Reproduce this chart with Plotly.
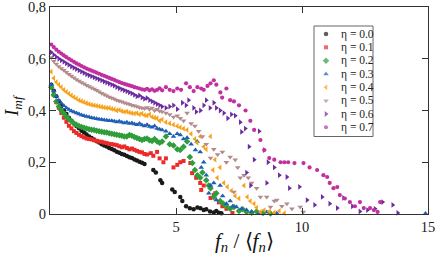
import plotly.graph_objects as go

# ---------------- data ----------------
ETA_LABELS = ["η = 0.0", "η = 0.1", "η = 0.2", "η = 0.3", "η = 0.4", "η = 0.5", "η = 0.6", "η = 0.7"]
COLORS = ["#1a1a1a", "#ec2a2a", "#2f9e3a", "#1f5eb5", "#f7a21b", "#b38b8b", "#6a2c9e", "#c2309f"]
SYMBOLS = ["circle", "square", "diamond", "triangle-up", "triangle-left", "triangle-down", "triangle-right", "circle"]

DENSE_X = [0.05, 0.15, 0.25, 0.35, 0.45, 0.55, 0.65, 0.75, 0.85, 0.95, 1.05, 1.15, 1.25, 1.35, 1.45,
           1.55, 1.65, 1.75, 1.85, 1.95, 2.05, 2.15, 2.25, 2.35, 2.45, 2.55, 2.65, 2.75, 2.85, 2.95,
           3.05, 3.15, 3.25, 3.35, 3.45, 3.55, 3.65, 3.75, 3.85, 3.95, 4.05, 4.15, 4.25, 4.35, 4.45]

Y00_DENSE = [0.500, 0.476, 0.455, 0.436, 0.417, 0.400, 0.386, 0.372, 0.360, 0.350, 0.340, 0.331, 0.322,
             0.315, 0.307, 0.300, 0.294, 0.288, 0.281, 0.276, 0.270, 0.265, 0.261, 0.255, 0.251, 0.246,
             0.241, 0.237, 0.232, 0.229, 0.224, 0.219, 0.216, 0.211, 0.207, 0.202, 0.198, 0.193]
X00_TAIL = [4.10, 4.20, 4.38, 4.45, 4.85, 4.95, 5.17, 5.25, 5.40, 5.55, 5.70, 5.85, 5.97, 6.10, 6.20,
            6.35, 6.50, 6.60, 6.70, 6.80]
Y00_TAIL = [0.170, 0.160, 0.130, 0.120, 0.095, 0.085, 0.066, 0.050, 0.030, 0.022, 0.018, 0.025, 0.022,
            0.015, 0.018, 0.010, 0.006, 0.012, 0.005, 0.003]

Y01_DENSE = [0.490, 0.460, 0.432, 0.410, 0.390, 0.372, 0.356, 0.341, 0.331, 0.320, 0.313, 0.306, 0.301,
             0.296, 0.292, 0.290, 0.288, 0.285, 0.283, 0.280, 0.279, 0.276, 0.274, 0.271, 0.270, 0.268,
             0.266, 0.262, 0.258, 0.261, 0.255, 0.250, 0.253, 0.248, 0.244, 0.240, 0.238, 0.232, 0.230]
X01_TAIL = [4.00, 4.10, 4.25, 4.35, 4.50, 4.60, 4.90, 5.05, 5.17, 5.30, 5.57, 5.64, 5.80, 5.96, 6.00,
            6.10, 6.37, 6.50, 6.56, 6.70, 6.84, 7.00, 7.24]
Y01_TAIL = [0.235, 0.225, 0.240, 0.215, 0.200, 0.215, 0.180, 0.190, 0.200, 0.205, 0.197, 0.158, 0.140,
            0.120, 0.093, 0.110, 0.062, 0.073, 0.080, 0.045, 0.030, 0.020, 0.004]

Y02_DENSE = [0.490, 0.460, 0.435, 0.415, 0.400, 0.388, 0.376, 0.366, 0.358, 0.350, 0.345, 0.340, 0.336,
             0.333, 0.330, 0.328, 0.326, 0.325, 0.322, 0.320, 0.318, 0.316, 0.315, 0.312, 0.310, 0.308,
             0.306, 0.304, 0.302, 0.300, 0.300, 0.305, 0.302, 0.298, 0.294, 0.290, 0.286, 0.290, 0.292,
             0.285, 0.282, 0.290, 0.280, 0.275, 0.280]
X02_TAIL = [4.60, 4.75, 4.90, 5.05, 5.17, 5.30, 5.44, 5.55, 5.65, 5.75, 5.85, 5.96, 6.05, 6.20, 6.30,
            6.37, 6.50, 6.60, 6.75, 6.88, 7.00, 7.15, 7.30, 7.50, 7.65, 7.80, 8.00, 8.20, 8.45, 8.75]
Y02_TAIL = [0.300, 0.270, 0.265, 0.250, 0.247, 0.260, 0.280, 0.220, 0.197, 0.170, 0.150, 0.140, 0.160,
            0.130, 0.110, 0.100, 0.066, 0.080, 0.050, 0.040, 0.030, 0.020, 0.027, 0.012, 0.018, 0.008,
            0.005, 0.010, 0.004, 0.002]

Y03_DENSE = [0.500, 0.475, 0.455, 0.440, 0.428, 0.418, 0.410, 0.404, 0.398, 0.394, 0.390, 0.386, 0.383,
             0.380, 0.377, 0.375, 0.372, 0.370, 0.368, 0.366, 0.365, 0.363, 0.362, 0.360, 0.360, 0.358,
             0.356, 0.358, 0.355, 0.352, 0.355, 0.350, 0.352, 0.348, 0.345, 0.350, 0.344, 0.340, 0.345,
             0.338, 0.335, 0.340, 0.330, 0.328, 0.325]
X03_TAIL = [4.60, 4.75, 4.90, 5.05, 5.17, 5.30, 5.44, 5.60, 5.77, 5.84, 5.96, 6.00, 6.10, 6.20, 6.30,
            6.37, 6.50, 6.60, 6.75, 6.85, 7.00, 7.15, 7.25, 7.40, 7.60, 7.80, 8.00, 8.30, 8.60, 9.00, 14.90]
Y03_TAIL = [0.320, 0.310, 0.300, 0.310, 0.305, 0.290, 0.295, 0.270, 0.247, 0.280, 0.240, 0.180, 0.200,
            0.150, 0.080, 0.110, 0.120, 0.054, 0.110, 0.070, 0.040, 0.050, 0.030, 0.027, 0.020, 0.015,
            0.010, 0.004, 0.008, 0.003, 0.002]

Y04_DENSE = [0.550, 0.525, 0.510, 0.500, 0.490, 0.480, 0.472, 0.465, 0.458, 0.452, 0.446, 0.440, 0.436,
             0.432, 0.428, 0.425, 0.422, 0.420, 0.418, 0.416, 0.414, 0.412, 0.410, 0.410, 0.406, 0.404,
             0.400, 0.402, 0.398, 0.395, 0.396, 0.392, 0.390, 0.388, 0.390, 0.385, 0.388, 0.382, 0.380,
             0.385, 0.375, 0.372, 0.370, 0.360, 0.365]
X04_TAIL = [4.60, 4.75, 4.90, 5.05, 5.17, 5.30, 5.44, 5.60, 5.75, 5.84, 5.96, 6.10, 6.20, 6.37, 6.47,
            6.55, 6.64, 6.75, 6.90, 7.04, 7.20, 7.35, 7.50, 7.70, 7.83, 7.95, 8.10, 8.20, 8.35, 8.50,
            8.70, 8.90, 9.10, 9.30]
Y04_TAIL = [0.355, 0.350, 0.345, 0.340, 0.335, 0.330, 0.325, 0.310, 0.290, 0.275, 0.300, 0.260, 0.250,
            0.300, 0.170, 0.210, 0.140, 0.180, 0.120, 0.105, 0.090, 0.070, 0.060, 0.110, 0.066, 0.050,
            0.040, 0.025, 0.008, 0.015, 0.010, 0.005, 0.012, 0.003]

Y05_DENSE = [0.605, 0.590, 0.580, 0.570, 0.562, 0.556, 0.548, 0.540, 0.533, 0.527, 0.520, 0.514, 0.508,
             0.503, 0.498, 0.493, 0.488, 0.483, 0.478, 0.472, 0.467, 0.462, 0.457, 0.452, 0.448, 0.444,
             0.440, 0.437, 0.434, 0.430, 0.427, 0.424, 0.420, 0.418, 0.415, 0.412, 0.410, 0.408, 0.412,
             0.405, 0.410, 0.400, 0.405, 0.398, 0.395]
X05_TAIL = [4.60, 4.75, 4.90, 5.05, 5.17, 5.30, 5.44, 5.60, 5.75, 5.90, 6.05, 6.20, 6.37, 6.50, 6.65,
            6.84, 7.00, 7.15, 7.30, 7.35, 7.45, 7.55, 7.70, 7.87, 8.00, 8.20, 8.35, 8.60, 8.75, 8.90,
            9.00, 9.20, 9.40, 9.60, 9.93, 10.05]
Y05_TAIL = [0.390, 0.385, 0.375, 0.380, 0.370, 0.360, 0.390, 0.350, 0.340, 0.320, 0.300, 0.270, 0.216,
            0.250, 0.230, 0.240, 0.200, 0.220, 0.085, 0.210, 0.180, 0.140, 0.150, 0.140, 0.120, 0.100,
            0.066, 0.066, 0.027, 0.050, 0.054, 0.030, 0.040, 0.020, 0.027, 0.008]

Y06_DENSE = [0.625, 0.615, 0.607, 0.600, 0.594, 0.588, 0.582, 0.576, 0.570, 0.565, 0.560, 0.555, 0.550,
             0.545, 0.540, 0.536, 0.532, 0.528, 0.524, 0.520, 0.516, 0.512, 0.508, 0.504, 0.500, 0.496,
             0.490, 0.486, 0.482, 0.478, 0.474, 0.470, 0.466, 0.460, 0.455, 0.458, 0.450, 0.445, 0.448,
             0.440, 0.435, 0.430, 0.425, 0.420, 0.415]
X06_TAIL = [4.60, 4.75, 4.90, 5.05, 5.25, 5.40, 5.50, 5.70, 5.80, 5.97, 6.10, 6.20, 6.35, 6.50, 6.60,
            6.75, 6.90, 7.05, 7.20, 7.35, 7.55, 7.60, 7.75, 7.80, 7.90, 7.96, 8.10, 8.30, 8.50, 8.60,
            8.65, 8.90, 9.10, 9.40, 9.50, 9.90, 10.20, 10.50, 10.80, 11.10, 11.40, 11.65, 12.00, 12.30,
            12.60, 12.90, 13.20, 13.60, 13.80]
Y06_TAIL = [0.410, 0.415, 0.420, 0.405, 0.430, 0.420, 0.440, 0.410, 0.395, 0.400, 0.420, 0.440, 0.410,
            0.430, 0.410, 0.400, 0.390, 0.370, 0.385, 0.380, 0.355, 0.317, 0.330, 0.160, 0.260, 0.110,
            0.210, 0.320, 0.247, 0.120, 0.200, 0.180, 0.150, 0.143, 0.100, 0.105, 0.054, 0.035, 0.066,
            0.040, 0.023, 0.062, 0.030, 0.010, 0.015, 0.020, 0.046, 0.035, 0.004]

Y07_DENSE = [0.655, 0.645, 0.635, 0.627, 0.620, 0.613, 0.606, 0.600, 0.594, 0.588, 0.582, 0.577, 0.572,
             0.567, 0.562, 0.558, 0.554, 0.550, 0.546, 0.542, 0.538, 0.534, 0.530, 0.526, 0.522, 0.518,
             0.514, 0.510, 0.506, 0.503, 0.500, 0.497, 0.494, 0.490, 0.488, 0.485, 0.482, 0.480, 0.484,
             0.478, 0.482, 0.476, 0.480, 0.486, 0.478]
X07_TAIL = [4.60, 4.75, 4.90, 5.05, 5.20, 5.40, 5.55, 5.70, 5.85, 6.00, 6.10, 6.25, 6.37, 6.50, 6.60,
            6.76, 6.83, 7.00, 7.15, 7.30, 7.50, 7.76, 7.95, 8.10, 8.35, 8.50, 8.70, 8.90, 9.15, 9.30,
            9.45, 9.70, 10.06, 10.30, 10.60, 10.85, 11.00, 11.10, 11.25, 11.40, 11.50, 11.70, 11.90,
            12.10, 12.30, 12.45, 12.70, 12.85, 13.00, 13.10]
Y07_TAIL = [0.490, 0.480, 0.475, 0.485, 0.480, 0.505, 0.490, 0.475, 0.490, 0.485, 0.480, 0.495, 0.505,
            0.517, 0.500, 0.470, 0.450, 0.485, 0.440, 0.435, 0.420, 0.400, 0.360, 0.325, 0.286, 0.247,
            0.216, 0.210, 0.200, 0.200, 0.200, 0.197, 0.197, 0.180, 0.170, 0.150, 0.143, 0.120, 0.100,
            0.104, 0.073, 0.060, 0.046, 0.030, 0.046, 0.023, 0.023, 0.015, 0.008, 0.046]

X_TICKS = [5, 10, 15]
X_TICK_TEXT = ["5", "10", "15"]
Y_TICKS = [0, 0.2, 0.4, 0.6, 0.8]
Y_TICK_TEXT = ["0", "0,2", "0,4", "0,6", "0,8"]

SERIES = [
    (Y00_DENSE, X00_TAIL, Y00_TAIL),
    (Y01_DENSE, X01_TAIL, Y01_TAIL),
    (Y02_DENSE, X02_TAIL, Y02_TAIL),
    (Y03_DENSE, X03_TAIL, Y03_TAIL),
    (Y04_DENSE, X04_TAIL, Y04_TAIL),
    (Y05_DENSE, X05_TAIL, Y05_TAIL),
    (Y06_DENSE, X06_TAIL, Y06_TAIL),
    (Y07_DENSE, X07_TAIL, Y07_TAIL),
]

# ---------------- figure ----------------
W, H = 436, 257
L, R, T, B = 50, 8, 7, 43
PW, PH = W - L - R, H - T - B
SERIF = "Liberation Serif"


def px2paper(px, py):
    return (px - L) / PW, (H - B - py) / PH


fig = go.Figure()
sizes = [4.5, 4, 5, 5, 5, 5, 5, 4.2]
for i, (yd, xt, yt) in enumerate(SERIES):
    xs = DENSE_X[:len(yd)] + xt
    ys = yd + yt
    fig.add_trace(go.Scatter(
        x=xs, y=ys, mode="markers", name=ETA_LABELS[i], showlegend=False,
        marker=dict(symbol=SYMBOLS[i], color=COLORS[i], size=sizes[i], line=dict(width=0)),
        cliponaxis=False,
    ))

# Custom legend placed in pixel coordinates on a hidden overlay axis pair
leg_rows = [34, 47.3, 60.7, 74, 87.3, 100.7, 114, 127.3]
fig.add_trace(go.Scatter(
    x=[326] * 8, y=leg_rows, mode="markers", xaxis="x2", yaxis="y2", showlegend=False,
    marker=dict(symbol=SYMBOLS, color=COLORS, size=[4.5, 4, 5, 5, 5, 5, 5, 4], line=dict(width=0)),
    hoverinfo="skip",
))

annotations = []
for i, lab in enumerate(ETA_LABELS):
    ax, ay = px2paper(339, leg_rows[i])
    annotations.append(dict(
        x=ax, y=ay, xref="paper", yref="paper", text=lab, showarrow=False,
        xanchor="left", yanchor="middle", font=dict(family=SERIF, size=11.5, color="#222"),
    ))
ax, ay = px2paper(244, 242)
annotations.append(dict(
    x=ax, y=ay, xref="paper", yref="paper",
    text="<i>f<sub>n</sub></i> / ⟨<i>f<sub>n</sub></i>⟩", showarrow=False,
    xanchor="center", yanchor="middle", font=dict(family=SERIF, size=21, color="#111"),
))
ax, ay = px2paper(13, 106)
annotations.append(dict(
    x=ax, y=ay, xref="paper", yref="paper",
    text="<i>I<sub>mf</sub></i>", showarrow=False, textangle=-90,
    xanchor="center", yanchor="middle", font=dict(family=SERIF, size=19, color="#111"),
))

bx0, by0 = px2paper(314, 136.5)
bx1, by1 = px2paper(373, 26)

axis_common = dict(
    ticks="inside", ticklen=6, tickcolor="#333", tickwidth=1, showline=True, linecolor="#333",
    linewidth=1, mirror="ticks", showgrid=False, zeroline=False, automargin=False,
    ticklabeloverflow="allow", tickfont=dict(family=SERIF, size=14.5, color="#222"),
)

fig.update_layout(
    template="none",
    width=W, height=H,
    margin=dict(l=L, r=R, t=T, b=B, pad=0),
    paper_bgcolor="white", plot_bgcolor="white",
    showlegend=False,
    xaxis=dict(range=[0, 15], tickvals=X_TICKS, ticktext=X_TICK_TEXT, **axis_common),
    yaxis=dict(range=[0, 0.8], tickvals=Y_TICKS, ticktext=Y_TICK_TEXT, **axis_common),
    xaxis2=dict(range=[L, W - R], overlaying="x", visible=False, fixedrange=True, automargin=False),
    yaxis2=dict(range=[H - B, T], overlaying="y", visible=False, fixedrange=True, automargin=False),
    shapes=[dict(type="rect", xref="paper", yref="paper", x0=bx0, x1=bx1, y0=by0, y1=by1,
                 line=dict(color="#666", width=1), fillcolor="rgba(0,0,0,0)", layer="above")],
    annotations=annotations,
)

fig.write_html(
    "out.html",
    config={"displayModeBar": False},
    post_script="document.body.style.margin='0';document.body.style.padding='0';",
)
